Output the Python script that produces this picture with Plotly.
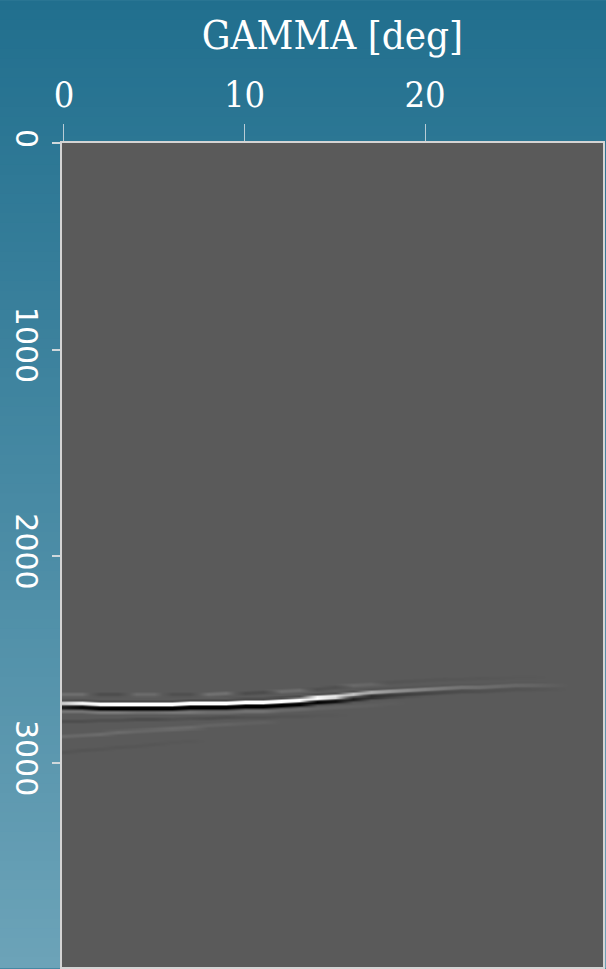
import numpy as np
import plotly.graph_objects as go

# ---------------- data ----------------
angles = [0, 1, 2, 3, 4, 5, 6, 7, 8, 9, 10, 11, 12, 13, 14, 15,
          16, 17, 18, 19, 20, 21, 22, 23, 24, 25, 26, 27, 28, 29, 30]

# main reflection: depth of the peak per angle column and its amplitude
main_depth = [2712, 2712, 2713, 2713, 2713, 2713, 2713, 2712, 2711, 2709,
              2706, 2703, 2699, 2693, 2686, 2678, 2670, 2662, 2655, 2649,
              2644, 2640, 2636, 2633, 2630, 2627, 2625, 2623, 2621, 2620, 2620]
main_amp = [0.7, 0.95, 1.1, 1.2, 1.2, 1.2, 1.2, 1.2, 1.2, 1.2,
            1.2, 1.2, 1.2, 1.1, 1.0, 0.85, 0.65, 0.5, 0.38, 0.3,
            0.24, 0.19, 0.15, 0.12, 0.1, 0.08, 0.06, 0.03, 0.0, 0.0, 0.0]

# wavelet of the main reflection (offset in depth units, relative amplitude)
wavelet_offsets = [-20, -15, -10, -5, 0, 5, 10, 15, 20, 25, 30, 35]
wavelet_values = [-0.1, -0.15, 0.35, 0.9, 1.0, 0.85, 0.1, -0.8, -1.0, -0.9, -0.45, -0.1]

# faint residual events (depth per column, amplitude per column)
above_depth = [2668, 2668, 2669, 2669, 2670, 2670, 2670, 2669, 2668, 2666,
               2663, 2660, 2656, 2650, 2643, 2635, 2627, 2619, 2612, 2606,
               2601, 2597, 2594, 2591, 2588, 2585, 2583, 2581, 2580, 2579, 2579]
above_amp = [0.12, 0.12, -0.15, -0.15, 0.10, 0.10, -0.12, -0.12, 0.14, 0.14,
             -0.16, -0.16, 0.12, 0.12, -0.12, -0.12, 0.09, 0.07, -0.06, -0.06,
             -0.05, -0.05, -0.04, -0.04, -0.03, -0.02, -0.02, 0.0, 0.0, 0.0, 0.0]

below1_depth = [2752, 2752, 2753, 2753, 2754, 2754, 2755, 2755, 2755, 2754,
                2752, 2750, 2747, 2742, 2736, 2730, 2724, 2718, 2712, 2706,
                2700, 2695, 2690, 2686, 2683, 2680, 2678, 2676, 2674, 2673, 2673]
below1_amp = [0.16, 0.16, 0.20, 0.20, 0.14, 0.14, 0.18, 0.18, 0.12, 0.12,
              0.15, 0.15, 0.09, 0.09, 0.06, 0.05, 0.04, 0.03, 0.02, 0.0,
              0.0, 0.0, 0.0, 0.0, 0.0, 0.0, 0.0, 0.0, 0.0, 0.0, 0.0]

below2_depth = [2800, 2798, 2796, 2794, 2792, 2790, 2788, 2786, 2784, 2782,
                2780, 2778, 2776, 2774, 2772, 2770, 2768, 2766, 2764, 2762,
                2760, 2758, 2756, 2754, 2752, 2750, 2748, 2746, 2744, 2742, 2740]
below2_amp = [-0.14, -0.14, -0.12, -0.12, -0.16, -0.16, -0.10, -0.10, -0.14, -0.14,
              -0.09, -0.09, -0.06, -0.06, -0.03, -0.02, 0.0, 0.0, 0.0, 0.0,
              0.0, 0.0, 0.0, 0.0, 0.0, 0.0, 0.0, 0.0, 0.0, 0.0, 0.0]

below3_depth = [2870, 2864, 2858, 2852, 2846, 2840, 2834, 2828, 2822, 2816,
                2810, 2804, 2798, 2792, 2786, 2780, 2774, 2768, 2762, 2756,
                2750, 2744, 2738, 2732, 2726, 2720, 2714, 2708, 2702, 2696, 2690]
below3_amp = [0.09, 0.09, 0.11, 0.11, 0.08, 0.08, 0.10, 0.10, 0.06, 0.06,
              0.04, 0.04, 0.0, 0.0, 0.0, 0.0, 0.0, 0.0, 0.0, 0.0,
              0.0, 0.0, 0.0, 0.0, 0.0, 0.0, 0.0, 0.0, 0.0, 0.0, 0.0]

below4_depth = [2950, 2942, 2934, 2926, 2918, 2910, 2902, 2894, 2886, 2878,
                2870, 2862, 2854, 2846, 2838, 2830, 2822, 2814, 2806, 2798,
                2790, 2782, 2774, 2766, 2758, 2750, 2742, 2734, 2726, 2718, 2710]
below4_amp = [-0.07, -0.07, -0.06, -0.06, -0.05, -0.05, -0.03, -0.03, 0.0, 0.0,
              0.0, 0.0, 0.0, 0.0, 0.0, 0.0, 0.0, 0.0, 0.0, 0.0,
              0.0, 0.0, 0.0, 0.0, 0.0, 0.0, 0.0, 0.0, 0.0, 0.0, 0.0]

weak_offsets = [-10, -5, 0, 5, 10]
weak_values = [0.35, 0.8, 1.0, 0.8, 0.35]

x_tick_vals = [0, 10, 20]
x_tick_text = ["0", "10", "20"]
y_tick_vals = [0, 1000, 2000, 3000]
y_tick_text = ["0", "1000", "2000", "3000"]

# ---------------- build the image table ----------------
dz = 5
depth_samples = np.arange(0, 4000 + dz, dz)
z = np.zeros((len(depth_samples), len(angles)))


def add_event(depths, amps, offs, vals):
    for j in range(len(angles)):
        for o, v in zip(offs, vals):
            i = int(round((depths[j] + o) / dz))
            if 0 <= i < len(depth_samples):
                z[i, j] += amps[j] * v


add_event(main_depth, main_amp, wavelet_offsets, wavelet_values)
add_event(above_depth, above_amp, weak_offsets, weak_values)
add_event(below1_depth, below1_amp, weak_offsets, weak_values)
add_event(below2_depth, below2_amp, weak_offsets, weak_values)
add_event(below3_depth, below3_amp, weak_offsets, weak_values)
add_event(below4_depth, below4_amp, weak_offsets, weak_values)
z = np.clip(z, -1, 1)

fig = go.Figure()
fig.add_trace(go.Heatmap(
    x=angles, y=depth_samples, z=z,
    zmin=-1, zmax=1, zsmooth="best",
    colorscale=[[0.0, "#000000"], [0.5, "#5a5a5a"], [1.0, "#ffffff"]],
    showscale=False, hoverinfo="skip",
))

# ---------------- page background gradient (style) ----------------
W, H = 606, 969
ml, mr, mt, mb = 62, 3, 143, 0
pw, ph = W - ml - mr, H - mt - mb
top_rgb = np.array([33, 111, 142])
bot_rgb = np.array([108, 163, 184])
shapes = []
nstrip = 100
for k in range(nstrip):
    py0 = k * H / nstrip
    py1 = (k + 1) * H / nstrip + 1
    t = (k + 0.5) / nstrip
    c = top_rgb + (bot_rgb - top_rgb) * t
    shapes.append(dict(
        type="rect", xref="paper", yref="paper", layer="below",
        x0=-ml / pw - 0.05, x1=1 + mr / pw + 0.05,
        y0=1 - (py1 - mt) / ph, y1=1 - (py0 - mt) / ph,
        line=dict(width=0),
        fillcolor="rgb(%d,%d,%d)" % tuple(int(round(v)) for v in c),
    ))

fig.update_layout(
    width=W, height=H,
    margin=dict(l=ml, r=mr, t=mt, b=mb, pad=0),
    paper_bgcolor="rgb(70,137,163)",
    plot_bgcolor="#5a5a5a",
    shapes=shapes,
    showlegend=False,
)

fig.update_xaxes(
    side="top", range=[-0.11, 29.86],
    tickmode="array", tickvals=x_tick_vals, ticktext=x_tick_text,
    ticks="outside", ticklen=17, tickwidth=1, tickcolor="#b8ccd6",
    ticklabelstandoff=3,
    tickfont=dict(family="DejaVu Serif Condensed, DejaVu Serif", size=36, color="white"),
    title=dict(text="GAMMA [deg]", standoff=12,
               font=dict(family="DejaVu Serif Condensed, DejaVu Serif", size=40, color="white")),
    showline=True, linecolor="#d4d4d4", linewidth=2, mirror=True,
    showgrid=False, zeroline=False,
)
fig.update_yaxes(
    range=[3990, 0],
    tickmode="array", tickvals=y_tick_vals, ticktext=y_tick_text,
    ticks="outside", ticklen=8, tickwidth=1.5, tickcolor="#d0d8dc",
    tickangle=90,
    tickfont=dict(family="DejaVu Sans", size=30, color="white"),
    showline=True, linecolor="#d4d4d4", linewidth=2, mirror=True,
    showgrid=False, zeroline=False,
)

fig.write_html(
    "out.html",
    config={"displayModeBar": False},
    post_script="document.body.style.margin='0';document.body.style.padding='0';",
)
